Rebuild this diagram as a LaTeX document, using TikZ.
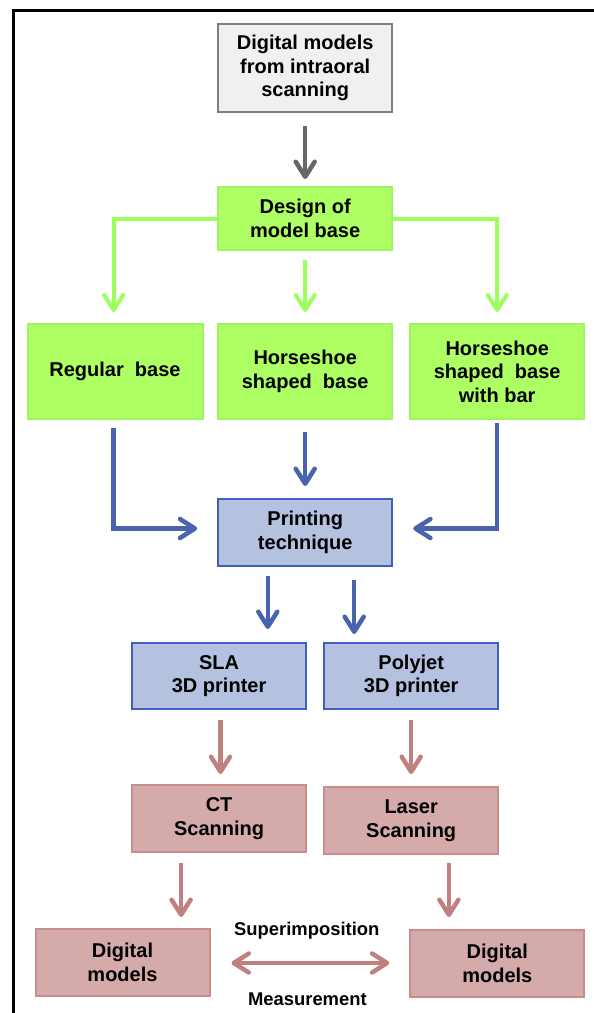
\documentclass[tikz,border=0pt]{standalone}
\usepackage{fontspec}
\setmainfont{Liberation Sans}
\usetikzlibrary{arrows.meta}
\definecolor{grayfill}{HTML}{F0F0F0}
\definecolor{grayline}{HTML}{7F7F7F}
\definecolor{grayarrow}{HTML}{676767}
\definecolor{greenfill}{HTML}{ADFF63}
\definecolor{greenline}{HTML}{9EF562}
\definecolor{greenarrow}{HTML}{9CFF5C}
\definecolor{bluefill}{HTML}{B4C1DF}
\definecolor{blueline}{HTML}{3E60C0}
\definecolor{bluearrow}{HTML}{4A63AE}
\definecolor{redfill}{HTML}{D4AAAA}
\definecolor{redline}{HTML}{C98C8C}
\definecolor{redarrow}{HTML}{C08080}
\begin{document}
\begin{tikzpicture}[x=1pt,y=-1pt,
  box/.style={rectangle, line width=2pt, inner sep=0pt, align=center,
    minimum width=174pt, font=\bfseries\fontsize{20}{23.5}\selectfont},
  graybox/.style={box, fill=grayfill, draw=grayline},
  greenbox/.style={box, fill=greenfill, draw=greenline},
  bluebox/.style={box, fill=bluefill, draw=blueline},
  redbox/.style={box, fill=redfill, draw=redline},
  tip/.style={-{Straight Barb[length=15pt,width=19pt,round]}},
  conn/.style={tip, line width=4.5pt},
  grayconn/.style={conn, draw=grayarrow},
  greenconn/.style={conn, line width=4pt, draw=greenarrow},
  blueconn/.style={conn, draw=bluearrow},
  redconn/.style={conn, draw=redarrow},
  lbl/.style={inner sep=0pt, anchor=base, font=\bfseries\fontsize{18.4}{20}\selectfont}
]
\useasboundingbox (0,0) rectangle (594,1013);
\fill[white] (0,0) rectangle (594,1013);
\draw[line width=3pt] (13,1013) -- (13,10) -- (594,10);

% nodes
\node[graybox, minimum height=88pt] (top) at (305.2,68) {Digital models\\from intraoral\\scanning};
\node[greenbox, minimum height=63pt] (design) at (305.2,218.5) {Design of\\model base};
\node[greenbox, minimum height=95pt, minimum width=175pt] (regular) at (115,371.5) {Regular\ \ base};
\node[greenbox, minimum height=95pt] (horse) at (305.2,371.5) {Horseshoe\\shaped\ \ base};
\node[greenbox, minimum height=95pt] (horsebar) at (497.2,371.5) {Horseshoe\\shaped\ \ base\\with bar};
\node[bluebox, minimum height=67pt] (print) at (305.2,532.5) {Printing\\technique};
\node[bluebox, minimum height=66pt] (sla) at (219.1,676) {SLA\\3D printer};
\node[bluebox, minimum height=66pt] (poly) at (411.2,676) {Polyjet\\3D printer};
\node[redbox, minimum height=67pt] (ct) at (219.1,818.5) {CT\\Scanning};
\node[redbox, minimum height=67pt] (laser) at (411.2,820.5) {Laser\\Scanning};
\node[redbox, minimum height=67pt] (dm1) at (122.5,962.5) {Digital\\models};
\node[redbox, minimum height=67pt] (dm2) at (497.3,963.5) {Digital\\models};
\node[lbl] (sup) at (306.8,935) {Superimposition};
\node[lbl] (meas) at (307.4,1005) {Measurement};

% connectors
\draw[grayconn, shorten <=13pt, shorten >=7pt] (top.south) -- (design.north);
\draw[greenconn, shorten >=11pt] (design.west) -| ([xshift=-1.4pt]regular.north);
\draw[greenconn, shorten <=9pt, shorten >=11pt] (design.south) -- (horse.north);
\draw[greenconn, shorten >=11pt] (design.east) -| (horsebar.north);
\draw[blueconn, shorten <=8pt, shorten >=20pt] ([xshift=-1.4pt]regular.south) |- ([yshift=4pt]print.west);
\draw[blueconn, shorten <=12pt, shorten >=12pt] (horse.south) -- (print.north);
\draw[blueconn, shorten <=3pt, shorten >=20pt] (horsebar.south) |- ([yshift=4pt]print.east);
\draw[blueconn, shorten <=9pt, shorten >=13pt] ([xshift=-37.4pt]print.south) -- ([xshift=-37.4pt]print.south |- sla.north);
\draw[blueconn, shorten <=13pt, shorten >=8pt] ([xshift=49pt]print.south) -- ([xshift=49pt]print.south |- poly.north);
\draw[redconn, shorten <=10pt, shorten >=10pt] ([xshift=1.4pt]sla.south) -- ([xshift=1.4pt]ct.north);
\draw[redconn, shorten <=10pt, shorten >=12pt] (poly.south) -- (laser.north);
\draw[redconn, shorten <=10pt, shorten >=11pt] ([xshift=-38pt]ct.south) -- ([xshift=-38pt]ct.south |- dm1.north);
\draw[redconn, shorten <=8pt, shorten >=12pt] ([xshift=37.7pt]laser.south) -- ([xshift=37.7pt]laser.south |- dm2.north);
\draw[redconn, {Straight Barb[length=15pt,width=19pt,round]}-{Straight Barb[length=15pt,width=19pt,round]}, shorten <=21pt, shorten >=20pt] ([yshift=-0.5pt]dm1.east) -- ([yshift=-0.5pt]dm1.east -| dm2.west);
\end{tikzpicture}
\end{document}
